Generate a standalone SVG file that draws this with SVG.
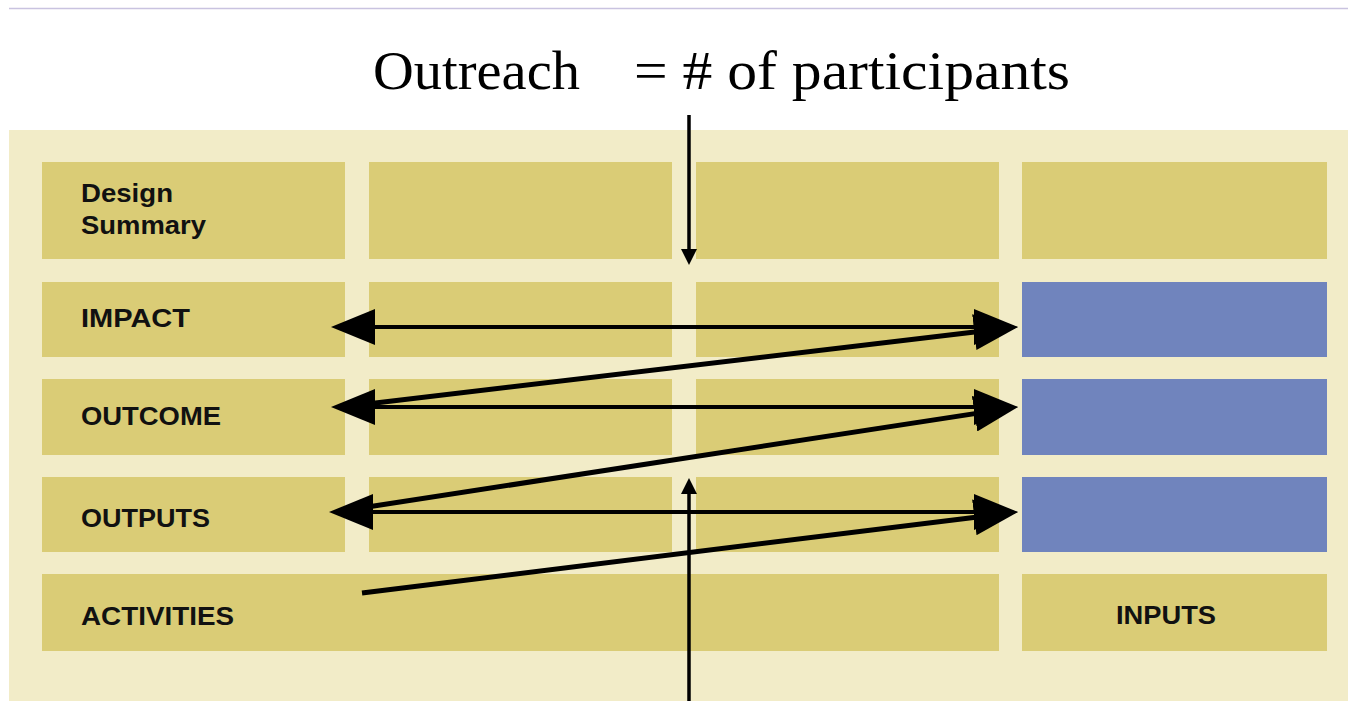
<svg xmlns="http://www.w3.org/2000/svg" width="1348" height="701" viewBox="0 0 1348 701">
  <style>
    .cell { fill: #dacc76; }
    .blue { fill: #7084bd; }
    .lbl { font-family: "Liberation Sans", Arial, sans-serif; font-weight: bold; font-size: 25px; fill: #111; }
    .title { font-family: "Liberation Serif", "Times New Roman", serif; font-size: 54px; fill: #000; }
    .h { stroke: #000; stroke-width: 4; fill: none; }
    .d { stroke: #000; stroke-width: 5; fill: none; }
    .v { stroke: #000; stroke-width: 3.5; fill: none; }
  </style>
  <defs>
    <marker id="bigHead" markerUnits="userSpaceOnUse" viewBox="0 0 44 36" markerWidth="44" markerHeight="36" refX="30" refY="18" orient="auto-start-reverse">
      <path d="M0,0 L44,18 L0,36 Z" fill="#000"/>
    </marker>
    <marker id="smallHead" markerUnits="userSpaceOnUse" viewBox="0 0 16 16" markerWidth="16" markerHeight="16" refX="11" refY="8" orient="auto">
      <path d="M0,0 L16,8 L0,16 Z" fill="#000"/>
    </marker>
  </defs>

  <rect width="1348" height="701" fill="#ffffff"/>
  <line x1="9" y1="8.5" x2="1348" y2="8.5" stroke="#c9c3e0" stroke-width="1.5"/>

  <g id="title">
    <text class="title" x="373" y="89" textLength="207" lengthAdjust="spacingAndGlyphs">Outreach</text>
    <text class="title" x="634" y="89" textLength="436" lengthAdjust="spacingAndGlyphs">= # of participants</text>
  </g>

  <rect id="panel" x="9" y="130" width="1339" height="571" fill="#f2ecc8"/>

  <g id="row-design">
    <rect class="cell" x="42" y="162" width="303" height="97"/>
    <rect class="cell" x="369" y="162" width="303" height="97"/>
    <rect class="cell" x="696" y="162" width="303" height="97"/>
    <rect class="cell" x="1022" y="162" width="305" height="97"/>
    <text class="lbl" x="81" y="202" textLength="92" lengthAdjust="spacingAndGlyphs">Design</text>
    <text class="lbl" x="81" y="234" textLength="125" lengthAdjust="spacingAndGlyphs">Summary</text>
  </g>
  <g id="row-impact">
    <rect class="cell" x="42" y="282" width="303" height="75"/>
    <rect class="cell" x="369" y="282" width="303" height="75"/>
    <rect class="cell" x="696" y="282" width="303" height="75"/>
    <rect class="blue" x="1022" y="282" width="305" height="75"/>
    <text class="lbl" x="81" y="327" textLength="109" lengthAdjust="spacingAndGlyphs">IMPACT</text>
  </g>
  <g id="row-outcome">
    <rect class="cell" x="42" y="379" width="303" height="76"/>
    <rect class="cell" x="369" y="379" width="303" height="76"/>
    <rect class="cell" x="696" y="379" width="303" height="76"/>
    <rect class="blue" x="1022" y="379" width="305" height="76"/>
    <text class="lbl" x="81" y="425" textLength="140" lengthAdjust="spacingAndGlyphs">OUTCOME</text>
  </g>
  <g id="row-outputs">
    <rect class="cell" x="42" y="477" width="303" height="75"/>
    <rect class="cell" x="369" y="477" width="303" height="75"/>
    <rect class="cell" x="696" y="477" width="303" height="75"/>
    <rect class="blue" x="1022" y="477" width="305" height="75"/>
    <text class="lbl" x="81" y="527" textLength="129" lengthAdjust="spacingAndGlyphs">OUTPUTS</text>
  </g>
  <g id="row-activities">
    <rect class="cell" x="42" y="574" width="957" height="77"/>
    <text class="lbl" x="81" y="625" textLength="153" lengthAdjust="spacingAndGlyphs">ACTIVITIES</text>
  </g>
  <g id="inputs">
    <rect class="cell" x="1022" y="574" width="305" height="77"/>
    <text class="lbl" x="1116" y="624" textLength="100" lengthAdjust="spacingAndGlyphs">INPUTS</text>
  </g>

  <g id="connectors">
    <line class="h" x1="345" y1="327" x2="1004" y2="327" marker-start="url(#bigHead)" marker-end="url(#bigHead)"/>
    <line class="h" x1="345" y1="407" x2="1004" y2="407" marker-start="url(#bigHead)" marker-end="url(#bigHead)"/>
    <line class="h" x1="343" y1="512" x2="1004" y2="512" marker-start="url(#bigHead)" marker-end="url(#bigHead)"/>
    <line class="d" x1="350" y1="406" x2="1004.1" y2="328.6" marker-end="url(#bigHead)"/>
    <line class="d" x1="348" y1="510" x2="1004.2" y2="409.1" marker-end="url(#bigHead)"/>
    <line class="d" x1="362" y1="593" x2="1004.1" y2="513.7" marker-end="url(#bigHead)"/>
    <line class="v" x1="689" y1="115" x2="689" y2="260" marker-end="url(#smallHead)"/>
    <line class="v" x1="689" y1="701" x2="689" y2="483" marker-end="url(#smallHead)"/>
  </g>
</svg>
